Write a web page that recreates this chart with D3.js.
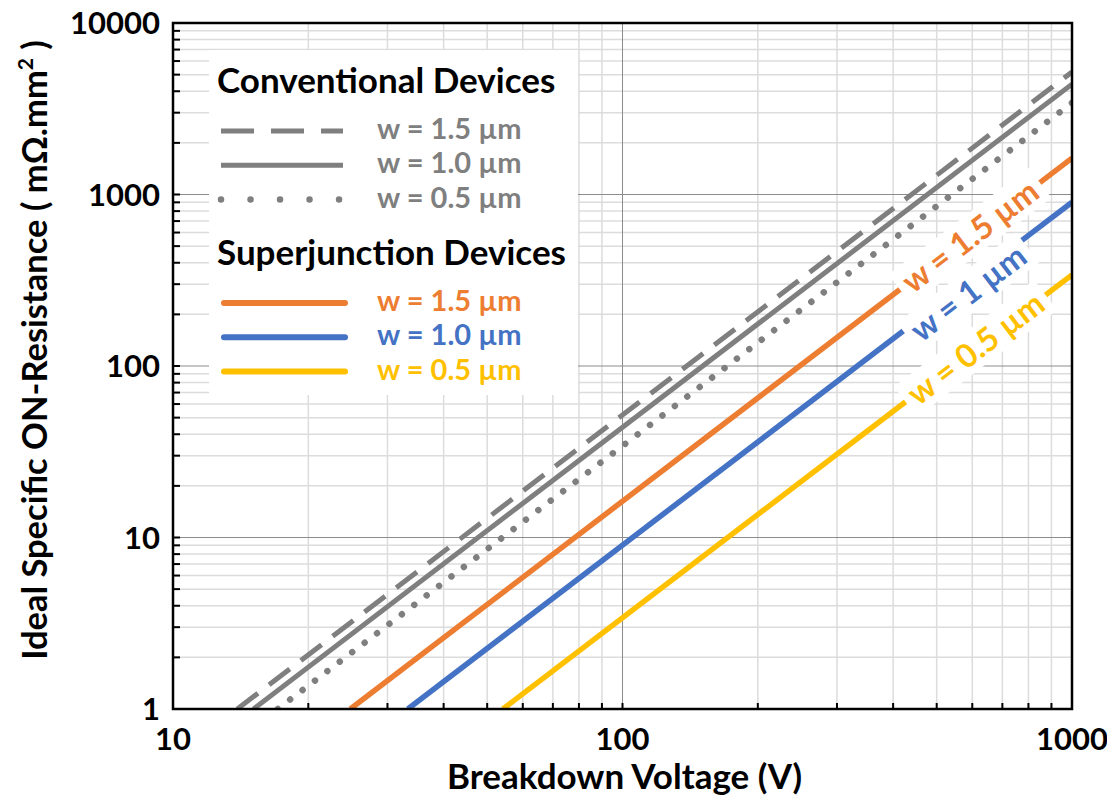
<!DOCTYPE html>
<html>
<head>
<meta charset="utf-8">
<script src="https://d3js.org/d3.v7.min.js"></script>
<style>
  body { margin: 0; background: white; }
  svg { display: block; font-family: Lato, "Open Sans", sans-serif; font-weight: bold; }
</style>
</head>
<body>
<svg id="chart" width="1107" height="799"></svg>
<script>
// data (breakdown voltage in V, Ron in mOhm.mm2)
const widths = ["w = 1.5 µm", "w = 1.0 µm", "w = 0.5 µm"];
const convBV  = [[13.9, 1000], [15.1, 1000], [17.1, 1000]];
const convRon = [[1, 5180], [1, 4400], [1, 3420]];
const sjBV    = [[24.8, 1000], [33.3, 1000], [54.2, 1000]];
const sjRon   = [[1, 1630], [1, 902], [1, 340]];
const sjTags  = ["w = 1.5 µm", "w = 1 µm", "w = 0.5 µm"];
const sjTagBV = [593, 571, 610];
const xTicks = [10, 100, 1000];
const yTicks = [1, 10, 100, 1000, 10000];

const convStyle = ["dash", "solid", "dot"];
const sjColors = ["#ED7D31", "#4472C4", "#FFC000"];
const gray = "#7F7F7F";

let margin = { top: 23, left: 173, right: 35, bottom: 90 };
let width = 1107, height = 799;
let bodyW = width - margin.left - margin.right;   // 899
let bodyH = height - margin.top - margin.bottom;  // 686

let svg = d3.select("#chart");
let x = d3.scaleLog().domain([10, 1000]).range([0, bodyW]);
let y = d3.scaleLog().domain([1, 10000]).range([bodyH, 0]);

let body = svg.append("g").attr("transform", `translate(${margin.left},${margin.top})`);

svg.append("defs").append("clipPath").attr("id", "plotclip")
  .append("rect").attr("width", bodyW).attr("height", bodyH);

// minor grid
let minorX = x.ticks().filter(v => !xTicks.includes(v));
let minorY = y.ticks().filter(v => !yTicks.includes(v));
body.append("g").selectAll("line").data(minorX).join("line")
  .attr("x1", d => x(d)).attr("x2", d => x(d)).attr("y1", 0).attr("y2", bodyH)
  .attr("stroke", "#DCDCDC").attr("stroke-width", 1.5);
body.append("g").selectAll("line").data(minorY).join("line")
  .attr("y1", d => y(d)).attr("y2", d => y(d)).attr("x1", 0).attr("x2", bodyW)
  .attr("stroke", "#DCDCDC").attr("stroke-width", 1.5);
// major grid
body.append("g").selectAll("line").data(xTicks).join("line")
  .attr("x1", d => x(d)).attr("x2", d => x(d)).attr("y1", 0).attr("y2", bodyH)
  .attr("stroke", "#8C8C8C").attr("stroke-width", 1);
body.append("g").selectAll("line").data(yTicks).join("line")
  .attr("y1", d => y(d)).attr("y2", d => y(d)).attr("x1", 0).attr("x2", bodyW)
  .attr("stroke", "#8C8C8C").attr("stroke-width", 1);

// data lines
let line = d3.line().x(d => x(d[0])).y(d => y(d[1]));
let plot = body.append("g").attr("clip-path", "url(#plotclip)");

convBV.forEach((bv, i) => {
  let pts = bv.map((v, j) => [v, convRon[i][j]]);
  let p = plot.append("path").datum(pts).attr("d", line)
    .attr("fill", "none").attr("stroke", gray);
  if (convStyle[i] == "dash") p.attr("stroke-width", 5).attr("stroke-dasharray", "26,14");
  else if (convStyle[i] == "dot") p.attr("stroke-width", 6.5).attr("stroke-linecap", "round").attr("stroke-dasharray", "0.01,15.6");
  else p.attr("stroke-width", 5);
});

sjBV.forEach((bv, i) => {
  let pts = bv.map((v, j) => [v, sjRon[i][j]]);
  plot.append("path").datum(pts).attr("d", line)
    .attr("fill", "none").attr("stroke", sjColors[i]).attr("stroke-width", 5.5);
});

// rotated labels on the superjunction lines
let slope = (y(1) - y(100)) / (x(100) - x(10));
let angle = -Math.atan(slope) * 180 / Math.PI;
let tagShift = [0, 9, 0];
sjTags.forEach((t, i) => {
  let bv = sjTagBV[i];
  let ron = sjRon[i][0] * Math.pow(bv / sjBV[i][0], 2);
  let g = body.append("g")
    .attr("transform", `translate(${x(bv)},${y(ron)}) rotate(${angle}) translate(0,${tagShift[i]})`);
  let txt = g.append("text").text(t)
    .attr("text-anchor", "middle").attr("dy", "0.36em")
    .attr("font-size", 32.5).attr("fill", sjColors[i]);
  let w = txt.node().getComputedTextLength();
  g.insert("rect", "text")
    .attr("x", -w / 2 - 7).attr("y", -19).attr("width", w + 14).attr("height", 38)
    .attr("fill", "white");
});

// legend
let leg = body.append("g").attr("transform", "translate(36,27)");
leg.append("rect").attr("width", 369).attr("height", 345).attr("fill", "white");
leg.append("text").text("Conventional Devices").attr("x", 8).attr("y", 43)
  .attr("font-size", 35).attr("fill", "black");
leg.append("text").text("Superjunction Devices").attr("x", 8).attr("y", 215)
  .attr("font-size", 35).attr("fill", "black");

widths.forEach((t, i) => {
  let ly = 81 + i * 34.3;
  let l = leg.append("line").attr("x1", 12).attr("x2", 134).attr("y1", ly).attr("y2", ly)
    .attr("stroke", gray);
  if (convStyle[i] == "dash") l.attr("stroke-width", 5).attr("stroke-dasharray", "33,17");
  else if (convStyle[i] == "dot") l.attr("x2", 132).attr("stroke-width", 6.5).attr("stroke-linecap", "round").attr("stroke-dasharray", "0.01,29.5");
  else l.attr("stroke-width", 5);
  leg.append("text").text(t).attr("x", 168).attr("y", ly + 8)
    .attr("font-size", 29).attr("fill", gray);
});
widths.forEach((t, i) => {
  let ly = 253 + i * 34.3;
  leg.append("line").attr("x1", 15).attr("x2", 136).attr("y1", ly).attr("y2", ly)
    .attr("stroke", sjColors[i]).attr("stroke-width", 6).attr("stroke-linecap", "round");
  leg.append("text").text(t).attr("x", 168).attr("y", ly + 8)
    .attr("font-size", 29).attr("fill", sjColors[i]);
});

// inward ticks
body.append("g").selectAll("line").data(y.ticks()).join("line")
  .attr("y1", d => y(d)).attr("y2", d => y(d)).attr("x1", 0).attr("x2", 7)
  .attr("stroke", "black").attr("stroke-width", 2);
body.append("g").selectAll("line").data(x.ticks()).join("line")
  .attr("x1", d => x(d)).attr("x2", d => x(d)).attr("y1", bodyH).attr("y2", bodyH - 6)
  .attr("stroke", "black").attr("stroke-width", 2);

// frame
body.append("rect").attr("width", bodyW).attr("height", bodyH)
  .attr("fill", "none").attr("stroke", "black").attr("stroke-width", 2.5);

// tick labels
body.append("g").selectAll("text").data(yTicks).join("text")
  .attr("x", -13).attr("y", d => y(d)).attr("dy", "0.36em")
  .attr("text-anchor", "end").attr("font-size", 31).text(d => d);
body.append("g").selectAll("text").data(xTicks).join("text")
  .attr("x", d => x(d)).attr("y", bodyH + 41)
  .attr("text-anchor", "middle").attr("font-size", 31).text(d => d);

// axis titles
svg.append("text").attr("x", margin.left + bodyW / 2 + 2).attr("y", 789)
  .attr("text-anchor", "middle").attr("font-size", 35).text("Breakdown Voltage (V)");

let yt = svg.append("text").attr("transform", "translate(47,350) rotate(-90)")
  .attr("text-anchor", "middle").attr("font-size", 34.5);
yt.append("tspan").text("Ideal Specific ON-Resistance ( mΩ.mm");
yt.append("tspan").text("2").attr("font-size", 21).attr("dy", -14);
yt.append("tspan").text(" )").attr("dy", 14);
</script>
</body>
</html>
